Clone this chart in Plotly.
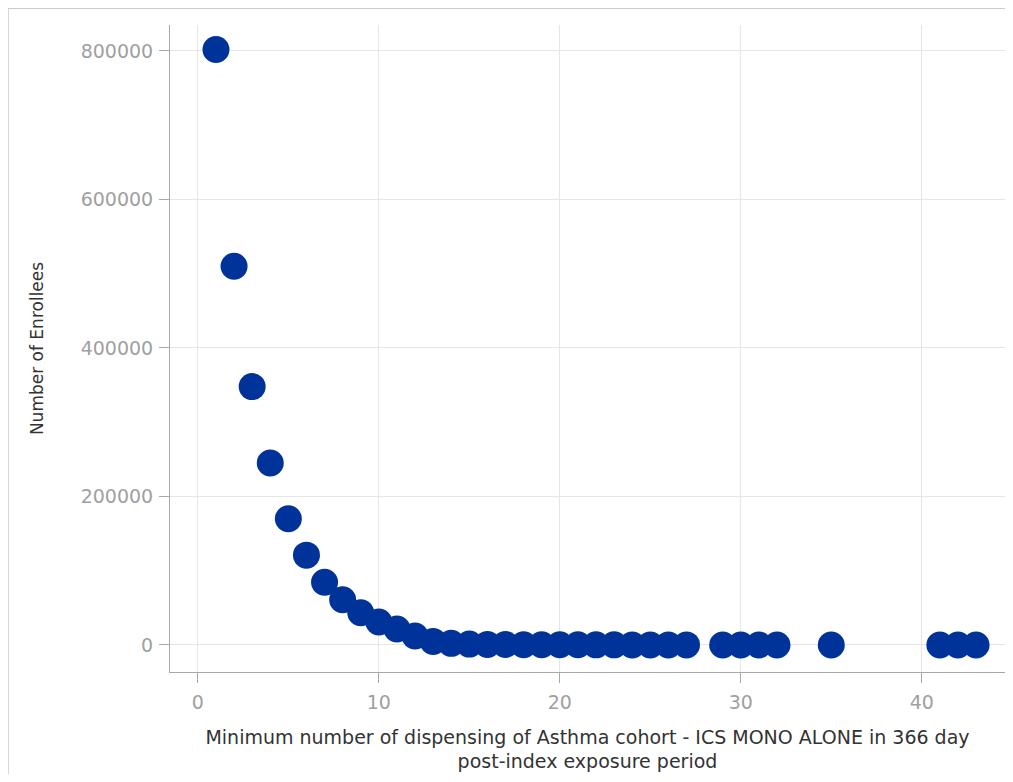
import plotly.graph_objects as go

# Data
dispensings = [1, 2, 3, 4, 5, 6, 7, 8, 9, 10, 11, 12, 13, 14, 15, 16, 17, 18, 19, 20,
               21, 22, 23, 24, 25, 26, 27, 29, 30, 31, 32, 35, 41, 42, 43]
enrollees = [802000, 510000, 348000, 245000, 170000, 121000, 84500, 61000, 43500, 31000,
             21500, 12000, 4800, 2200, 1200, 800, 600, 450, 350, 280,
             220, 180, 150, 120, 100, 90, 80, 60, 50, 40, 35, 20, 10, 8, 6]

x_title = "Minimum number of dispensing of Asthma cohort - ICS MONO ALONE in 366 day<br>post-index exposure period"
y_title = "Number of Enrollees"

FONT = "DejaVu Sans, Verdana, sans-serif"

fig = go.Figure()
fig.add_trace(go.Scatter(
    x=dispensings, y=enrollees, mode="markers",
    marker=dict(size=27, color="#003399", line=dict(width=0)),
    showlegend=False,
))

axis_common = dict(
    showline=True, linecolor="#a8a8a8", linewidth=1,
    showgrid=True, gridcolor="#e6e6e6", gridwidth=1,
    ticks="outside", ticklen=10, tickcolor="#a8a8a8", tickwidth=1,
    tickfont=dict(family=FONT, size=19, color="#a0a0a0"),
    zeroline=False, mirror=False,
)

fig.update_layout(
    width=997, height=766,
    margin=dict(l=162, r=0, t=17, b=102),
    paper_bgcolor="white", plot_bgcolor="white",
    font=dict(family=FONT, color="#333333"),
    xaxis=dict(
        range=[-1.54, 44.6], tickmode="linear", tick0=0, dtick=10,
        ticklabelstandoff=3,
        title=dict(text=x_title, font=dict(family=FONT, size=19, color="#333333"), standoff=18),
        **axis_common,
    ),
    yaxis=dict(
        range=[-36400, 835000], tickmode="linear", tick0=0, dtick=200000,
        tickformat="d", ticklabelstandoff=2,
        title=dict(text=y_title, font=dict(family=FONT, size=17, color="#333333"), standoff=32),
        **axis_common,
    ),
    shapes=[
        dict(type="line", xref="paper", yref="paper", x0=-0.194, x1=1.01, y0=1.026, y1=1.026,
             line=dict(color="#cccccc", width=1.5)),
        dict(type="line", xref="paper", yref="paper", x0=-0.194, x1=-0.194, y0=1.026, y1=-0.2,
             line=dict(color="#cccccc", width=1.5)),
    ],
)

fig.write_html("out.html")
